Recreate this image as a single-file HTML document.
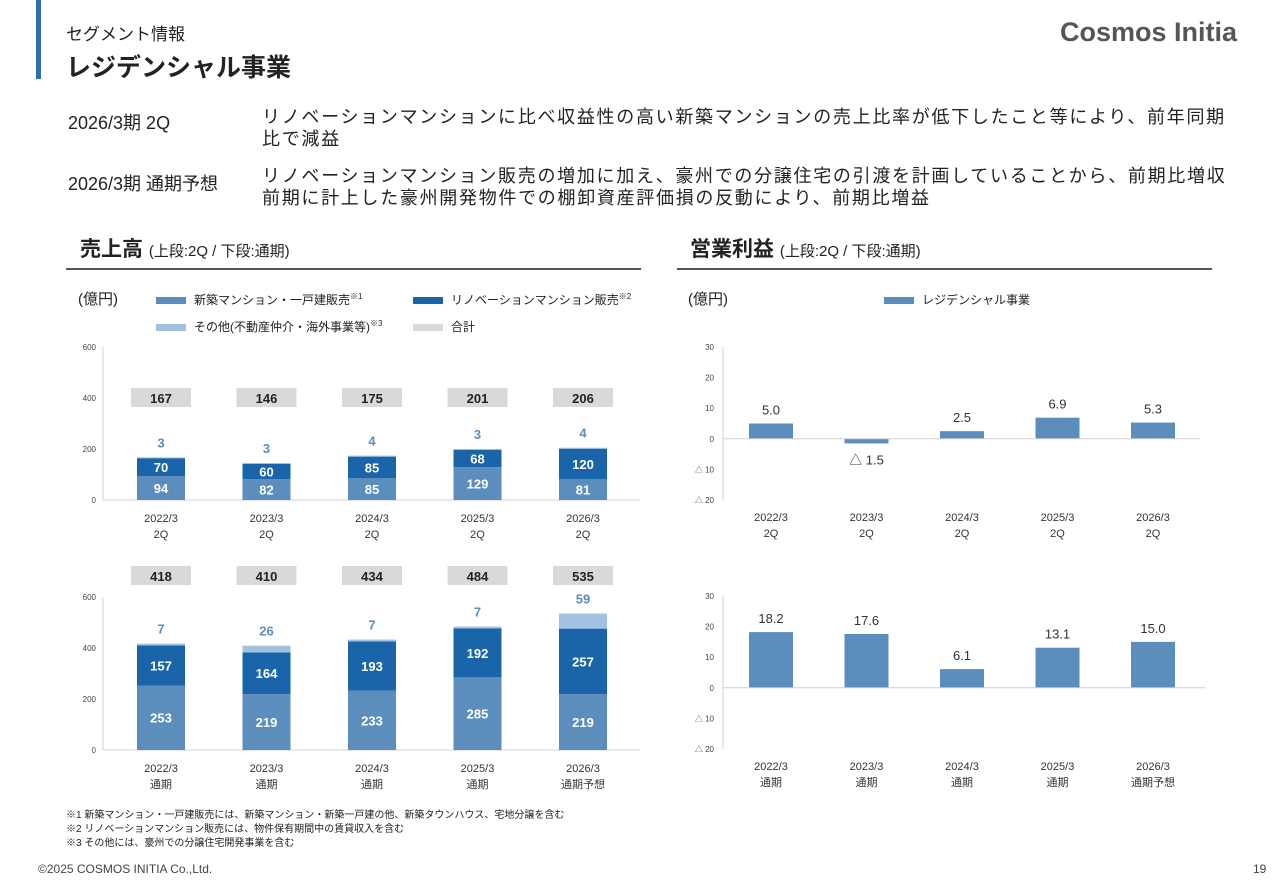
<!DOCTYPE html>
<html><head><meta charset="utf-8">
<style>
body{margin:0;width:1280px;height:886px;background:#fff;font-family:"Liberation Sans","Noto Sans CJK JP",sans-serif;color:#222;position:relative;overflow:hidden}
.a{position:absolute;white-space:nowrap}
svg{position:absolute;left:0;top:0}
</style></head><body>
<div class="a" style="left:36px;top:0;width:5px;height:79px;background:#2e6db0"></div>
<div class="a" style="left:66px;top:20px;font-size:17px">セグメント情報</div>
<div class="a" style="left:66px;top:48px;font-size:25px;font-weight:bold">レジデンシャル事業</div>
<div class="a" style="left:1060px;top:17px;font-size:27px;font-weight:bold;color:#555">Cosmos Initia</div>
<div class="a" style="left:68px;top:109px;font-size:18px">2026/3期 2Q</div>
<div class="a" style="left:262px;top:106px;font-size:18px;letter-spacing:1.7px;line-height:22px">リノベーションマンションに比べ収益性の高い新築マンションの売上比率が低下したこと等により、前年同期<br>比で減益</div>
<div class="a" style="left:68px;top:170px;font-size:18px">2026/3期 通期予想</div>
<div class="a" style="left:262px;top:165px;font-size:18px;letter-spacing:1.7px;line-height:22px">リノベーションマンション販売の増加に加え、豪州での分譲住宅の引渡を計画していることから、前期比増収<br>前期に計上した豪州開発物件での棚卸資産評価損の反動により、前期比増益</div>
<div class="a" style="left:80px;top:233px;font-size:21px;font-weight:bold">売上高 <span style="font-size:15px;font-weight:normal">(上段:2Q / 下段:通期)</span></div>
<div class="a" style="left:66px;top:268px;width:575px;height:2px;background:#555"></div>
<div class="a" style="left:690px;top:233px;font-size:21px;font-weight:bold">営業利益 <span style="font-size:15px;font-weight:normal">(上段:2Q / 下段:通期)</span></div>
<div class="a" style="left:677px;top:268px;width:535px;height:2px;background:#555"></div>
<div class="a" style="left:78px;top:288px;font-size:15px">(億円)</div>
<div class="a" style="left:688px;top:288px;font-size:15px">(億円)</div>
<div class="a" style="left:156px;top:291px;font-size:12px"><span style="display:inline-block;width:30px;height:7px;background:#5b8ebd;margin-right:8px;vertical-align:middle"></span>新築マンション・一戸建販売<sup style="font-size:8px">※1</sup></div>
<div class="a" style="left:413px;top:291px;font-size:12px"><span style="display:inline-block;width:30px;height:7px;background:#1a64aa;margin-right:8px;vertical-align:middle"></span>リノベーションマンション販売<sup style="font-size:8px">※2</sup></div>
<div class="a" style="left:156px;top:318px;font-size:12px"><span style="display:inline-block;width:30px;height:7px;background:#a3c0de;margin-right:8px;vertical-align:middle"></span>その他(不動産仲介・海外事業等)<sup style="font-size:8px">※3</sup></div>
<div class="a" style="left:413px;top:318px;font-size:12px"><span style="display:inline-block;width:30px;height:7px;background:#d9d9d9;margin-right:8px;vertical-align:middle"></span>合計</div>
<div class="a" style="left:884px;top:291px;font-size:12px"><span style="display:inline-block;width:30px;height:7px;background:#5b8ebd;margin-right:8px;vertical-align:middle"></span>レジデンシャル事業</div>
<div class="a" style="left:66px;top:809px;font-size:10px;line-height:14px">※1 新築マンション・一戸建販売には、新築マンション・新築一戸建の他、新築タウンハウス、宅地分譲を含む<br>※2 リノベーションマンション販売には、物件保有期間中の賃貸収入を含む<br>※3 その他には、豪州での分譲住宅開発事業を含む</div>
<div class="a" style="left:38px;top:862px;font-size:12px;color:#444">©2025 COSMOS INITIA Co.,Ltd.</div>
<div class="a" style="left:1253px;top:862px;font-size:12px;color:#444">19</div>
<svg id="c" width="1280" height="886"></svg>
<script>
const cats2Q=["2022/3","2023/3","2024/3","2025/3","2026/3"];
const sub2Q=["2Q","2Q","2Q","2Q","2Q"];
const subFY=["通期","通期","通期","通期","通期予想"];
const newQ=[94,82,85,129,81];
const renoQ=[70,60,85,68,120];
const otherQ=[3,3,4,3,4];
const totalQ=[167,146,175,201,206];
const newF=[253,219,233,285,219];
const renoF=[157,164,193,192,257];
const otherF=[7,26,7,7,59];
const totalF=[418,410,434,484,535];
const profitQ=[5.0,-1.5,2.5,6.9,5.3];
const profitF=[18.2,17.6,6.1,13.1,15.0];
const salesTicks=[0,200,400,600];
const profitTicks=[-20,-10,0,10,20,30];
const NS="http://www.w3.org/2000/svg";
const svg=document.getElementById('c');
function mk(t,a,txt){const e=document.createElementNS(NS,t);for(const k in a)e.setAttribute(k,a[k]);if(txt!==undefined)e.textContent=txt;svg.appendChild(e);return e;}
function fmt(v){return v<0?"△ "+Math.abs(v).toFixed(1):v.toFixed(1);}
function tickLbl(v){return v<0?"△ "+Math.abs(v):String(v);}
function salesChart(y0,cats,subs,nw,rn,ot,tot,boxY){
  const sy=v=>y0-v*153/600, cx=i=>161+i*105.5, w=48;
  salesTicks.forEach(t=>{const e=mk('text',{x:96,y:sy(t)+3,'font-size':8,'text-anchor':'end',fill:'#444'},t);
  });
  let ax=mk('line',{x1:103,y1:sy(600),x2:103,y2:y0,stroke:'#d0d0d0'});
  let bx=mk('line',{x1:103,y1:y0,x2:640,y2:y0,stroke:'#d0d0d0'});
  cats.forEach((c,i)=>{
    const x=cx(i)-w/2;
    let b1=mk('rect',{x:x,y:sy(nw[i]),width:w,height:nw[i]*153/600,fill:'#5b8ebd'});
    
    let b2=mk('rect',{x:x,y:sy(nw[i]+rn[i]),width:w,height:rn[i]*153/600,fill:'#1a64aa'});
    
    let b3=mk('rect',{x:x,y:sy(nw[i]+rn[i]+ot[i]),width:w,height:ot[i]*153/600,fill:'#a3c0de'});
    
    mk('text',{x:cx(i),y:sy(nw[i]/2)+5,'font-size':13,'font-weight':'bold','text-anchor':'middle',fill:'#fff'},nw[i]);
    mk('text',{x:cx(i),y:sy(nw[i]+rn[i]/2)+5,'font-size':13,'font-weight':'bold','text-anchor':'middle',fill:'#fff'},rn[i]);
    mk('text',{x:cx(i),y:sy(nw[i]+rn[i]+ot[i])-10,'font-size':13,'font-weight':'bold','text-anchor':'middle',fill:'#5b8ebd'},ot[i]);
    let bb=mk('rect',{x:cx(i)-30,y:boxY,width:60,height:19,fill:'#d9d9d9'});
    
    mk('text',{x:cx(i),y:boxY+15,'font-size':13,'font-weight':'bold','text-anchor':'middle',fill:'#222'},tot[i]);
    mk('text',{x:cx(i),y:y0+22,'font-size':11,'text-anchor':'middle',fill:'#333'},c);
    mk('text',{x:cx(i),y:y0+38,'font-size':11,'text-anchor':'middle',fill:'#333'},subs[i]);
  });
}
function profitChart(yTop,yBot,vals,subs,axisEnd){
  const sy=v=>yTop+(30-v)*(yBot-yTop)/50, cx=i=>771+i*95.5, w=44;
  profitTicks.forEach(t=>{const e=mk('text',{x:714,y:sy(t)+3,'font-size':8,'text-anchor':'end',fill:'#444'},tickLbl(t));
  });
  let ax=mk('line',{x1:723,y1:sy(30),x2:723,y2:sy(-20),stroke:'#d0d0d0'});
  vals.forEach((v,i)=>{
    const y=v>=0?sy(v):sy(0);
    let b=mk('rect',{x:cx(i)-w/2,y:y,width:w,height:Math.abs(sy(v)-sy(0)),fill:'#5b8ebd'});
    
    mk('text',{x:cx(i),y:v>=0?sy(v)-9:sy(v)+21,'font-size':13,'text-anchor':'middle',fill:'#333'},fmt(v));
    mk('text',{x:cx(i),y:sy(-20)+21,'font-size':11,'text-anchor':'middle',fill:'#333'},cats2Q[i]);
    mk('text',{x:cx(i),y:sy(-20)+37,'font-size':11,'text-anchor':'middle',fill:'#333'},subs[i]);
  });
  let bx=mk('line',{x1:723,y1:sy(0),x2:axisEnd,y2:sy(0),stroke:'#d0d0d0'});
}
salesChart(500,cats2Q,sub2Q,newQ,renoQ,otherQ,totalQ,388);
salesChart(750,cats2Q,subFY,newF,renoF,otherF,totalF,566);
profitChart(347,500,profitQ,sub2Q,1200);
profitChart(596,749,profitF,subFY,1205);
</script>
</body></html>
